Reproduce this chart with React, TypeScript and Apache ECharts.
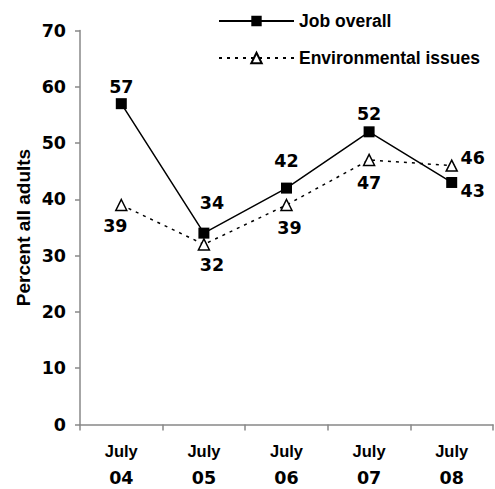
import React, { useEffect, useRef } from "react";
import * as echarts from "echarts";

const categories = ["July 04", "July 05", "July 06", "July 07", "July 08"];
const jobOverall = [57, 34, 42, 52, 43];
const environmental = [39, 32, 39, 47, 46];
const yTicks = { min: 0, max: 70, interval: 10 };

// label placement (pixels from each marker's centre)
const jobLabelOffsets = [[0, -17], [8, -30], [0, -27], [0, -18], [21, 9]];
const envLabelOffsets = [[-6, 21], [8, 21], [3, 23], [0, 23], [21, -8]];

const numFont = "'DejaVu Sans', Verdana, sans-serif";
const textFont = "'Liberation Sans', Arial, sans-serif";

export default function App() {
  const ref = useRef<HTMLDivElement>(null);
  useEffect(() => {
    if (!ref.current) return;
    const chart = echarts.init(ref.current, null, { renderer: "svg" });
    const labelBase = {
      show: true,
      position: "inside",
      color: "#000",
      fontFamily: numFont,
      fontWeight: "bold",
      fontSize: 17.5,
    };
    chart.setOption({
      animation: false,
      backgroundColor: "#fff",
      grid: { left: 80, right: 2, top: 30.5, bottom: 64.5, containLabel: false },
      legend: {
        orient: "vertical",
        left: 213,
        top: 6,
        itemWidth: 75,
        itemHeight: 13,
        itemGap: 17,
        textStyle: {
          fontFamily: textFont,
          fontWeight: "bold",
          fontSize: 17.5,
          color: "#000",
          lineHeight: 20,
        },
        data: ["Job overall", "Environmental issues"],
      },
      xAxis: {
        type: "category",
        data: categories,
        boundaryGap: true,
        axisLine: { lineStyle: { color: "#888", width: 1.5 } },
        axisTick: { show: true, length: 6, lineStyle: { color: "#888", width: 1.5 } },
        axisLabel: {
          margin: 13,
          formatter: (v: string) => {
            const [a, b] = v.split(" ");
            return `{a|${a}}\n{b|${b}}`;
          },
          rich: {
            a: { fontFamily: textFont, fontWeight: "bold", fontSize: 16.5, color: "#000", lineHeight: 27 },
            b: { fontFamily: numFont, fontWeight: "bold", fontSize: 17.5, color: "#000", lineHeight: 27 },
          },
        },
      },
      yAxis: {
        type: "value",
        min: yTicks.min,
        max: yTicks.max,
        interval: yTicks.interval,
        name: "Percent all adults",
        nameLocation: "middle",
        nameGap: 47,
        nameMoveOverlap: false,
        nameTextStyle: { fontFamily: textFont, fontWeight: "bold", fontSize: 19, color: "#000" },
        splitLine: { show: false },
        axisLine: { show: true, lineStyle: { color: "#888", width: 1.5 } },
        axisTick: { show: true, length: 5, lineStyle: { color: "#888", width: 1.5 } },
        axisLabel: { margin: 14, fontFamily: numFont, fontWeight: "bold", fontSize: 17.5, color: "#000" },
      },
      series: [
        {
          name: "Job overall",
          type: "line",
          symbol: "rect",
          symbolSize: 11,
          itemStyle: { color: "#000" },
          lineStyle: { color: "#000", width: 1.5, type: "solid" },
          data: jobOverall.map((v, i) => ({
            value: v,
            label: { ...labelBase, offset: jobLabelOffsets[i] },
          })),
          z: 3,
        },
        {
          name: "Environmental issues",
          type: "line",
          symbol: "triangle",
          symbolSize: 11,
          itemStyle: { color: "#fff", borderColor: "#000", borderWidth: 1.5 },
          lineStyle: { color: "#000", width: 1.5, type: [3, 5] },
          data: environmental.map((v, i) => ({
            value: v,
            label: { ...labelBase, offset: envLabelOffsets[i] },
          })),
          z: 2,
        },
      ],
    });
    return () => chart.dispose();
  }, []);
  return (
    <div
      ref={ref}
      style={{ position: "absolute", left: 0, top: 0, width: 495, height: 489, background: "#fff" }}
    />
  );
}
